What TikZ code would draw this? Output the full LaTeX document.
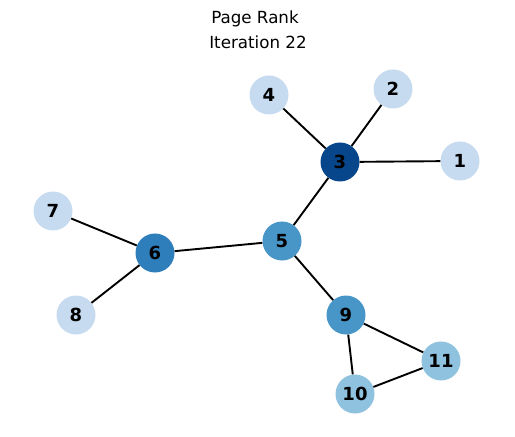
\documentclass[tikz,border=0pt]{standalone}
\usepackage{fontspec}
\setmainfont{DejaVu Sans}
\definecolor{rankA}{HTML}{C6DBEF}
\definecolor{rankB}{HTML}{8FC2DE}
\definecolor{rankC}{HTML}{4896C8}
\definecolor{rankD}{HTML}{2E7EBC}
\definecolor{rankE}{HTML}{08468B}
\begin{document}
\begin{tikzpicture}[x=1bp, y=-1bp,
    vertex/.style={circle, minimum size=39bp, inner sep=0pt,
      font=\fontsize{18bp}{20bp}\selectfont\bfseries},
    link/.style={line width=1.9bp, black},
    caption/.style={anchor=base, inner sep=0pt, font=\fontsize{16.7bp}{20bp}\selectfont}]

        \useasboundingbox (0,0) rectangle (515,437);

        \node[caption] (title) at (255,24) {Page Rank};
        \node[caption] (iter) at (258,49) {Iteration 22};

        \node[vertex, fill=rankA] (n1) at (460,161) {1};
        \node[vertex, fill=rankA] (n2) at (393,89) {2};
        \node[vertex, fill=rankE] (n3) at (340,162) {3};
        \node[vertex, fill=rankA] (n4) at (269,95) {4};
        \node[vertex, fill=rankC] (n5) at (282,241) {5};
        \node[vertex, fill=rankD] (n6) at (155,253) {6};
        \node[vertex, fill=rankA] (n7) at (53,211) {7};
        \node[vertex, fill=rankA] (n8) at (76,315) {8};
        \node[vertex, fill=rankC] (n9) at (346,315) {9};
        \node[vertex, fill=rankB] (n10) at (355,394) {10};
        \node[vertex, fill=rankB] (n11) at (441,361) {11};

        \draw[link] (n3) -- (n1);
        \draw[link] (n3) -- (n2);
        \draw[link] (n3) -- (n4);
        \draw[link] (n3) -- (n5);
        \draw[link] (n5) -- (n6);
        \draw[link] (n6) -- (n7);
        \draw[link] (n6) -- (n8);
        \draw[link] (n5) -- (n9);
        \draw[link] (n9) -- (n10);
        \draw[link] (n9) -- (n11);
        \draw[link] (n10) -- (n11);
    \end{tikzpicture}
\end{document}
